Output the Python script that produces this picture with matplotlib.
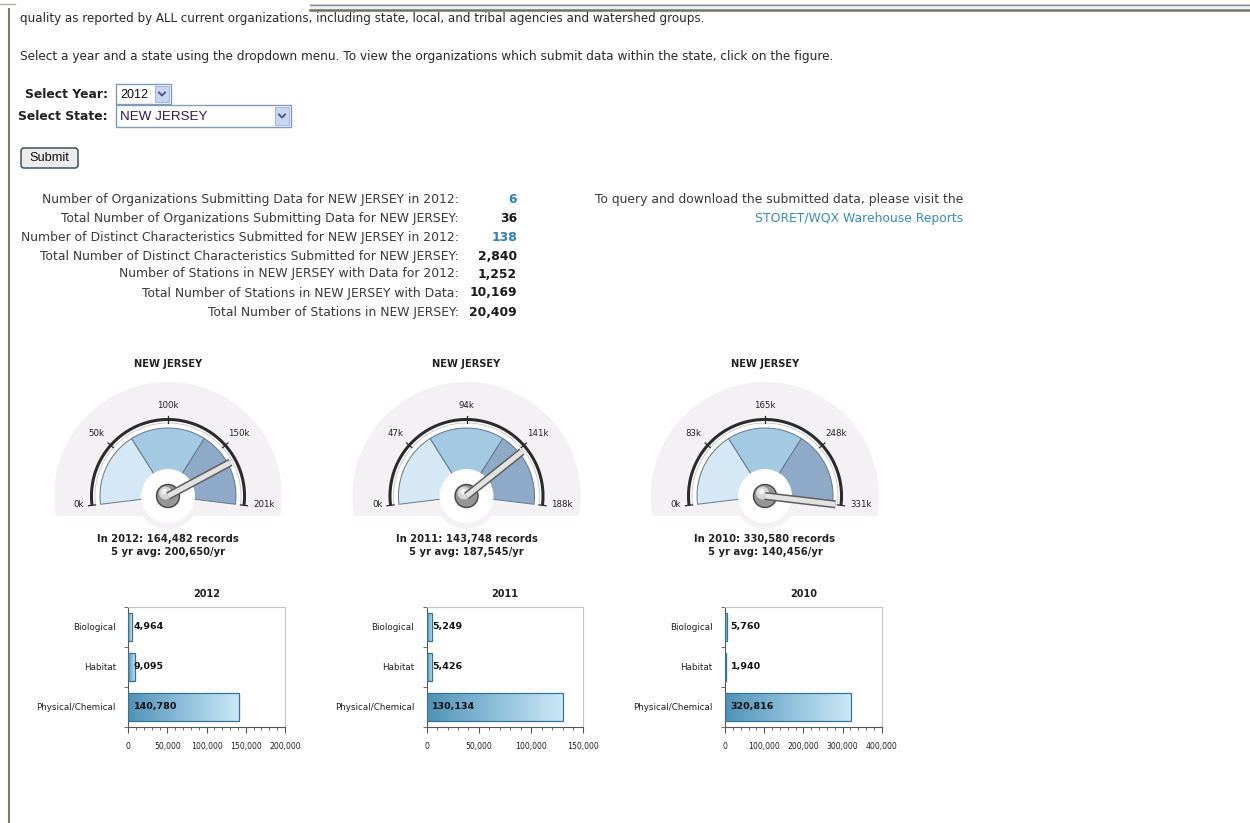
"""NEW JERSEY water-quality submission summary page: gauges + category bars."""

import numpy as np
import matplotlib
matplotlib.use("Agg")
import matplotlib.pyplot as plt
from matplotlib.patches import Polygon, Rectangle, Circle, FancyBboxPatch
from matplotlib.colors import LinearSegmentedColormap
from matplotlib.ticker import MultipleLocator, FuncFormatter

W, H = 1250, 823

state = "NEW JERSEY"
sel_year = "2012"

intro_line = ("quality as reported by ALL current organizations, including state, "
              "local, and tribal agencies and watershed groups.")
help_line = ("Select a year and a state using the dropdown menu. To view the "
             "organizations which submit data within the state, click on the figure.")

stat_labels = [
    "Number of Organizations Submitting Data for NEW JERSEY in 2012:",
    "Total Number of Organizations Submitting Data for NEW JERSEY:",
    "Number of Distinct Characteristics Submitted for NEW JERSEY in 2012:",
    "Total Number of Distinct Characteristics Submitted for NEW JERSEY:",
    "Number of Stations in NEW JERSEY with Data for 2012:",
    "Total Number of Stations in NEW JERSEY with Data:",
    "Total Number of Stations in NEW JERSEY:",
]
stat_values = ["6", "36", "138", "2,840", "1,252", "10,169", "20,409"]
stat_is_link = [True, False, True, False, False, False, False]

# gauges
gauge_years = [2012, 2011, 2010]
gauge_records = [164482, 143748, 330580]
gauge_avg = [200650, 187545, 140456]
gauge_max = [201000, 188000, 331000]
gauge_tick_labels = [
    ["0k", "50k", "100k", "150k", "201k"],
    ["0k", "47k", "94k", "141k", "188k"],
    ["0k", "83k", "165k", "248k", "331k"],
]

# bars
bar_years = [2012, 2011, 2010]
categories = ["Biological", "Habitat", "Physical/Chemical"]
biological = [4964, 5249, 5760]
habitat = [9095, 5426, 1940]
physical = [140780, 130134, 320816]
bar_xmax = [200000, 150000, 400000]
bar_xstep = [50000, 50000, 100000]

TXT = "#2a2a2a"
LINK = "#2f80b5"

fig = plt.figure(figsize=(W / 100, H / 100), dpi=100)
fig.patch.set_facecolor("white")
ax0 = fig.add_axes([0, 0, 1, 1])
ax0.set_xlim(0, W)
ax0.set_ylim(H, 0)
ax0.axis("off")

# page frame
ax0.plot([0, 15], [4, 4], color="#b0b0b0", lw=1)
ax0.plot([310, W], [4.3, 4.3], color="#d9d2bc", lw=0.8)
ax0.plot([310, W], [5.3, 5.3], color="#8890a6", lw=1)
ax0.add_patch(Rectangle((310, 5.8), W - 310, 3, color="#eef0fa", lw=0))
ax0.plot([310, W], [10, 10], color="#6f7262", lw=1.8)
ax0.plot([9, 9], [9, H], color="#7d7b6d", lw=1.5)

ax0.text(20, 18, intro_line, fontsize=8.6, color=TXT, va="center")
ax0.text(20, 56, help_line, fontsize=8.75, color=TXT, va="center")

# form controls
ax0.text(108, 94, "Select Year:", fontsize=8.9, fontweight="bold", color="#222",
         ha="right", va="center")
ax0.text(108, 116, "Select State:", fontsize=8.9, fontweight="bold", color="#222",
         ha="right", va="center")


def dropdown(x, y, w, h, label, color, size):
    ax0.add_patch(Rectangle((x, y), w, h, facecolor="white", edgecolor="#7f9db9", lw=1))
    bx = x + w - 16
    ax0.add_patch(Rectangle((bx, y + 2), 14, h - 4, facecolor="#c8d6f4",
                            edgecolor="#aab9dc", lw=0.8))
    mx, my = bx + 7, y + h / 2
    ax0.plot([mx - 3, mx, mx + 3], [my - 1.5, my + 1.5, my - 1.5], color="#4a5e88", lw=1.4)
    ax0.text(x + 4, y + h / 2 + 0.5, label, fontsize=size, family="Liberation Sans",
             color=color, va="center")


dropdown(116, 84, 55, 20, sel_year, "#111", 9)
dropdown(116, 105, 175, 22, state, "#2e1a55", 9.6)

ax0.add_patch(FancyBboxPatch((21, 148), 57, 20, boxstyle="round,pad=0,rounding_size=3",
                             facecolor="#ececec", edgecolor="#2d4054", lw=1))
ax0.text(49.5, 158, "Submit", fontsize=9.2, family="Liberation Sans", color="#111",
         ha="center", va="center")

# stats block
row_y = [199, 218, 237, 256, 274, 293, 312]
for lab, val, link, y in zip(stat_labels, stat_values, stat_is_link, row_y):
    ax0.text(459, y, lab, fontsize=8.95, color="#3a3a3a", ha="right", va="center")
    ax0.text(517, y, val, fontsize=8.95, fontweight="bold",
             color=LINK if link else "#1a1a1a", ha="right", va="center")

ax0.text(963, 199, "To query and download the submitted data, please visit the",
         fontsize=8.95, color="#3a3a3a", ha="right", va="center")
ax0.text(963, 218, "STORET/WQX Warehouse Reports", fontsize=8.95, color="#3a8cc0",
         ha="right", va="center")

# gauges
A0, SPAN = 187.0, 194.0


def ang(f):
    return np.radians(A0 - f * SPAN)


def arc(cx, cy, r, f0, f1, n=80):
    t = np.linspace(ang(f0), ang(f1), n)
    return np.column_stack([cx + r * np.cos(t), cy - r * np.sin(t)])


band_colors = ["#d4e8f5", "#a4c9e3", "#8fa9c9"]
gauge_cx = [168, 466.5, 765]
cy = 496

for k, cx in enumerate(gauge_cx):
    # soft background
    bg = arc(cx, cy, 114, -0.016, 1.016)
    ax0.add_patch(Polygon(bg, closed=True, facecolor="#f3f1f3", edgecolor="none"))
    ax0.add_patch(Circle((cx, cy + 2), 31, facecolor="#f3f1f3", edgecolor="none"))
    # white ring under the scale arc
    ring = np.vstack([arc(cx, cy, 77, 0, 1), arc(cx, cy, 66, 1, 0)])
    ax0.add_patch(Polygon(ring, closed=True, facecolor="white", edgecolor="none"))
    for i, col in enumerate(band_colors):
        f0, f1 = i / 3, (i + 1) / 3
        pts = np.vstack([arc(cx, cy, 68, f0, f1), arc(cx, cy, 26, f1, f0)])
        ax0.add_patch(Polygon(pts, closed=True, facecolor=col, edgecolor="#65778a", lw=0.7))
    ax0.add_patch(Circle((cx, cy), 27, facecolor="white", edgecolor="none"))
    sa = arc(cx, cy, 73, 0, 1)
    ax0.plot(sa[:, 0], sa[:, 1], color="#c4c4c4", lw=0.6)
    sa = arc(cx, cy, 76.5, 0, 1)
    ax0.plot(sa[:, 0], sa[:, 1], color="#2b2b2b", lw=2.2, solid_capstyle="butt")
    labels = gauge_tick_labels[k]
    for j, lab in enumerate(labels):
        f = j / 4
        a = ang(f)
        ax0.plot([cx + 73 * np.cos(a), cx + 80 * np.cos(a)],
                 [cy - 73 * np.sin(a), cy - 80 * np.sin(a)], color="#2b2b2b", lw=0.9)
        if j == 0:
            ax0.text(cx - 84, cy + 8, lab, fontsize=6.2, color="#222", ha="right", va="center")
        elif j == 4:
            ax0.text(cx + 85, cy + 8, lab, fontsize=6.2, color="#222", ha="left", va="center")
        else:
            r = 91 if j == 2 else 95
            ax0.text(cx + r * np.cos(a), cy - r * np.sin(a), lab, fontsize=6.2, color="#222",
                     ha="center", va="center")
    # needle
    a = ang(gauge_records[k] / gauge_max[k])
    nx, ny = [cx, cx + 71 * np.cos(a)], [cy, cy - 71 * np.sin(a)]
    ax0.plot(nx, ny, color="#5e5e5e", lw=5.8, solid_capstyle="butt")
    ax0.plot(nx, ny, color="#e2e2e2", lw=3.6, solid_capstyle="butt")
    ax0.add_patch(Circle((cx, cy), 11.5, facecolor="#959595", edgecolor="#444", lw=1))
    ax0.add_patch(Circle((cx - 2.5, cy - 3), 6.5, facecolor="#d6d6d6", edgecolor="none"))
    ax0.add_patch(Circle((cx - 3.5, cy - 4.5), 2.8, facecolor="#f2f2f2", edgecolor="none"))

    ax0.text(cx, 364, state, fontsize=7.1, fontweight="bold", color="#222",
             ha="center", va="center")
    ax0.text(cx, 539, f"In {gauge_years[k]}: {gauge_records[k]:,} records", fontsize=7.2,
             fontweight="bold", color="#222", ha="center", va="center")
    ax0.text(cx, 552, f"5 yr avg: {gauge_avg[k]:,}/yr", fontsize=7.2,
             fontweight="bold", color="#222", ha="center", va="center")

# category bar charts
bar_cmap = LinearSegmentedColormap.from_list("bar", ["#4f92b7", "#8dbfdb", "#cbe8f6"])
grad = np.linspace(0, 1, 256).reshape(1, -1)
left_px = [128.3, 426.7, 725.0]

for k in range(3):
    ax = fig.add_axes([left_px[k] / W, (H - 727) / H, 156.7 / W, 120 / H])
    vals = [biological[k], habitat[k], physical[k]]
    bars = ax.barh(range(3), vals, height=0.68, color="none", edgecolor="#3a7293",
                   lw=0.9, zorder=3)
    for b in bars:
        x0, y0, w, h = b.get_x(), b.get_y(), b.get_width(), b.get_height()
        ax.imshow(grad, extent=[x0, x0 + w, y0 + h, y0], cmap=bar_cmap,
                  aspect="auto", zorder=2, interpolation="bilinear")
    for i, v in enumerate(vals):
        ax.annotate(f"{v:,}", xy=(0, i), xytext=(4, 0), textcoords="offset points",
                    fontsize=6.8, fontweight="bold", color="#111", ha="left", va="center",
                    zorder=4)
    ax.set_xlim(0, bar_xmax[k])
    ax.set_ylim(2.5, -0.5)
    ax.set_yticks(range(3))
    ax.set_yticklabels(categories)
    ax.set_yticks([-0.5, 0.5, 1.5, 2.5], minor=True)
    ax.tick_params(axis="y", which="major", length=0, pad=9, labelsize=6.3, labelcolor="#222")
    ax.tick_params(axis="y", which="minor", length=3, color="#555")
    ax.xaxis.set_major_locator(MultipleLocator(bar_xstep[k]))
    ax.xaxis.set_minor_locator(MultipleLocator(bar_xstep[k] / 5))
    ax.xaxis.set_major_formatter(FuncFormatter(lambda v, p: f"{v:,.0f}"))
    ax.tick_params(axis="x", which="major", length=4, pad=7, labelsize=5.6,
                   labelcolor="#222", color="#555")
    ax.tick_params(axis="x", which="minor", length=2.5, color="#555")
    for side in ("left", "bottom"):
        ax.spines[side].set_color("#555")
    for side in ("top", "right"):
        ax.spines[side].set_color("#c4c4c4")
    ax.set_title(str(bar_years[k]), fontsize=7, fontweight="bold", color="#222", pad=7)

fig.savefig("out.png", dpi=100)
